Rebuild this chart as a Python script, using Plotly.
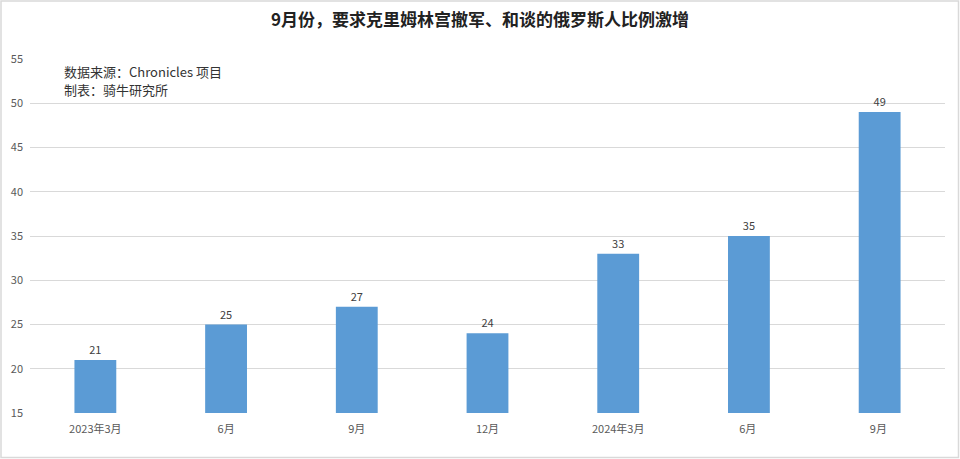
import plotly.graph_objects as go

categories = ["2023年3月", "6月", "9月", "12月", "2024年3月", "6月 ", "9月 "]
values = [21, 25, 27, 24, 33, 35, 49]
y_ticks = [15, 20, 25, 30, 35, 40, 45, 50, 55]
notes = ["数据来源：Chronicles 项目", "制表：骑牛研究所"]

font_family = "Noto Sans CJK SC, Microsoft YaHei, sans-serif"

fig = go.Figure()
fig.add_trace(go.Bar(
    x=categories, y=values,
    marker=dict(color="#5b9bd5", line=dict(width=0)),
    text=[str(v) for v in values], textposition="outside",
    textfont=dict(size=11, color="#404040", family=font_family),
    cliponaxis=False,
))

L, R, T, B = 30, 15, 59, 46
W, H = 960, 459
pw = W - L - R
ph = H - T - B

annotations = []
for i, note in enumerate(notes):
    yc = 71 + 18 * i
    annotations.append(dict(
        text=note, xref="paper", yref="paper",
        x=(62 - L) / pw, y=1 - (yc - T) / ph, xanchor="left", yanchor="middle",
        align="left", showarrow=False,
        font=dict(size=13, color="#333333", family=font_family)))

fig.update_layout(
    width=W, height=H,
    margin=dict(l=L, r=R, t=T, b=B),
    paper_bgcolor="white", plot_bgcolor="white",
    bargap=0.68,
    showlegend=False,
    font=dict(family=font_family),
    title=dict(text="<b>9月份，要求克里姆林宫撤军、和谈的俄罗斯人比例激增</b>",
               x=0.5, xanchor="center", y=1 - 20 / H, yanchor="middle",
               font=dict(size=17, color="#222222", family=font_family)),
    xaxis=dict(showgrid=False, showline=False, zeroline=False,
               tickfont=dict(size=11, color="#595959"),
               ticks="outside", ticklen=6, tickcolor="rgba(0,0,0,0)"),
    yaxis=dict(range=[15, 55], tickvals=y_ticks, showgrid=True,
               gridcolor="#d9d9d9", gridwidth=1, zeroline=False, showline=False,
               tickfont=dict(size=11, color="#595959"), ticks="",
               ticklabelstandoff=6),
    annotations=annotations,
    shapes=[
        dict(type="rect", xref="paper", yref="paper",
             x0=(1 - L) / pw, x1=(W - 1.5 - L) / pw,
             y0=-(H - 1.5 - T - ph) / ph, y1=1 + (T - 1) / ph,
             line=dict(color="#d9d9d9", width=1.5), layer="below"),
    ],
)

fig.write_html("out.html", config={"displayModeBar": False},
               post_script="document.body.style.margin='0';document.body.style.overflow='hidden';")
